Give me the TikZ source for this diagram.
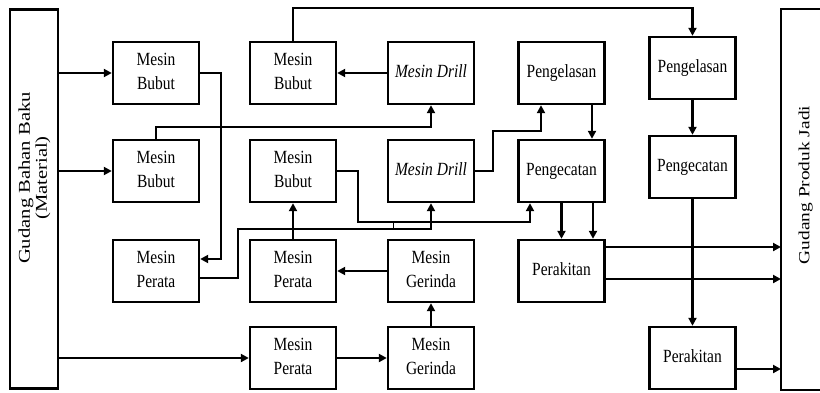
\documentclass[tikz,border=0pt]{standalone}
\usepackage{fontspec}
\setmainfont{Liberation Serif}
\usepackage{graphicx}
\usetikzlibrary{arrows.meta}
\newcommand{\lbl}[1]{\scalebox{1}[1.2]{\begin{tabular}{@{}c@{}}#1\end{tabular}}}
\newcommand{\rlbl}[1]{\scalebox{1.25}[1]{\begin{tabular}{@{}c@{}}#1\end{tabular}}}
\begin{document}
\begin{tikzpicture}[x=1pt,y=-1pt,
  box/.style={draw, line width=2.4pt, minimum width=86pt, minimum height=62pt, inner sep=0pt, font=\fontsize{15.5}{20}\selectfont},
  arr/.style={line width=2.3pt, -{Triangle[length=8pt,width=8pt]}},
  ln/.style={line width=2.3pt}]
\useasboundingbox (0,0) rectangle (820,392);
% warehouses
\node[draw, line width=2.3pt, minimum width=48pt, minimum height=379pt, inner sep=0pt] (gbb) at (34,199) {};
\node[rotate=90, font=\fontsize{16.5}{17}\selectfont] (gbbt) at (35,178) {\rlbl{Gudang Bahan Baku\\(Material)}};
\draw[ln] (822,9) -- (781,9) -- (781,390) -- (822,390);
\node[rotate=90, font=\fontsize{15.5}{17}\selectfont] (gpjt) at (806,185) {\rlbl{Gudang Produk Jadi}};
\coordinate (r1) at (781,247);
\coordinate (r2) at (781,279);
\coordinate (r3) at (781,369);
% column 1
\node[box] (b1) at (156,73) {\lbl{Mesin\\Bubut}};
\node[box] (b2) at (156,171) {\lbl{Mesin\\Bubut}};
\node[box] (p1) at (156,271) {\lbl{Mesin\\Perata}};
% column 2
\node[box] (bt) at (293,73) {\lbl{Mesin\\Bubut}};
\node[box] (bm) at (293,171) {\lbl{Mesin\\Bubut}};
\node[box] (p2) at (293,271) {\lbl{Mesin\\Perata}};
\node[box] (p3) at (293,358) {\lbl{Mesin\\Perata}};
% column 3
\node[box] (d1) at (431,73) {\lbl{\textit{Mesin Drill}}};
\node[box] (d2) at (431,171) {\lbl{\textit{Mesin Drill}}};
\node[box] (gr1) at (431,271) {\lbl{Mesin\\Gerinda}};
\node[box] (gr2) at (431,358) {\lbl{Mesin\\Gerinda}};
% column 4
\node[box] (w1) at (561.5,73) {\lbl{Pengelasan}};
\node[box] (c1) at (561.5,171) {\lbl{Pengecatan}};
\node[box] (k1) at (561.5,271) {\lbl{Perakitan}};
% column 5
\node[box] (w2) at (692.5,68) {\lbl{Pengelasan}};
\node[box] (c2) at (692.5,167) {\lbl{Pengecatan}};
\node[box] (k2) at (692.5,358) {\lbl{Perakitan}};
% connectors
\draw[arr] (gbb.east |- b1) -- (b1.west);
\draw[arr] (gbb.east |- b2) -- (b2.west);
\draw[arr] (gbb.east |- p3) -- (p3.west);
\draw[arr] (b1.east) -- ++(21,0) |- ([yshift=12]p1.east);
\draw[arr] (b2.north) -- ++(0,-12) -| (d1.south);
\draw[arr] (d1.west) -- (bt.east);
\draw[arr] (bt.north) -- ++(0,-33) -| (w2.north);
\draw[arr] (w2.south) -- (c2.north);
\draw[arr] (c2.south) -- (k2.north);
\draw[arr] (k2.east |- r3) -- (r3);
\draw[arr] (k1.east |- r1) -- (r1);
\draw[arr] (k1.east |- r2) -- (r2);
\draw[arr] (c1.south) -- (k1.north);
\draw[arr] ([xshift=31.5]c1.south) -- ([xshift=31.5]k1.north);
\draw[arr] ([xshift=30.5]w1.south) -- ([xshift=30.5]c1.north);
\draw[arr] (d2.east) -- ++(18,0) -- ++(0,-40) -| ([xshift=-20.5]w1.south);
\draw[arr] (bm.east) -- ++(21,0) -- ++(0,51) -| ([xshift=-31.5]c1.south);
\draw[arr] ([yshift=-7]p1.east) -- ++(38,0) -- ++(0,-49) -| (d2.south);
\draw[line width=1pt] ([xshift=-38,yshift=-20]d2.south) -- ++(0,7);
\draw[arr] (p2.north) -- (bm.south);
\draw[arr] (gr1.west) -- (p2.east);
\draw[arr] (gr2.north) -- (gr1.south);
\draw[arr] (p3.east) -- (gr2.west);
\end{tikzpicture}
\end{document}
